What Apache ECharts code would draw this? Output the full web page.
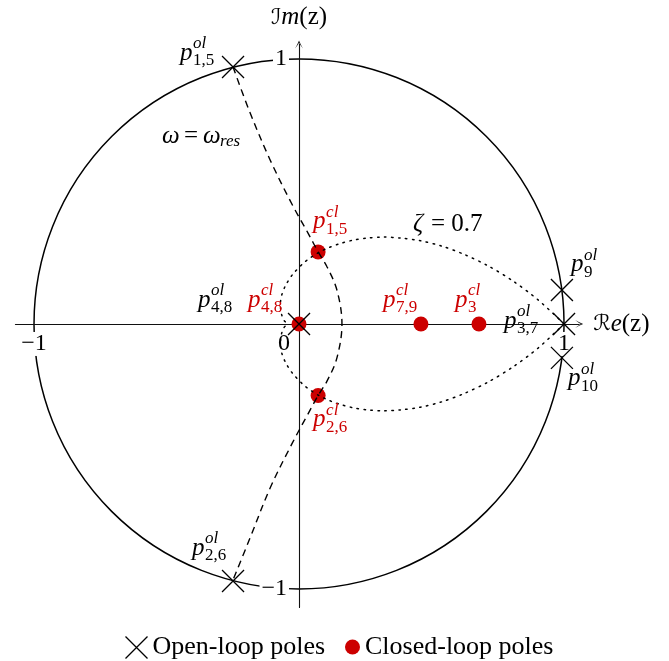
<!DOCTYPE html>
<html>
<head>
<meta charset="utf-8">
<script src="https://cdn.jsdelivr.net/npm/echarts@6/dist/echarts.min.js"></script>
<style>
  html, body { margin: 0; padding: 0; background: #fff; }
  #chart { width: 669px; height: 661px; }
</style>
</head>
<body>
<div id="chart"></div>
<script>
// Root locus of the loop in the z-plane.

// Open-loop poles (crosses) and their subscripts
const openPoles = [[-0.249, 0.970], [-0.249, -0.970], [0, 0], [1, 0], [0.992, 0.128], [0.992, -0.128]];
const openSubs = ['1,5', '2,6', '4,8', '3,7', '9', '10'];

// Closed-loop poles (red dots) and their subscripts
const closedPoles = [[0.072, 0.272], [0.072, -0.270], [0, 0], [0.46, 0], [0.679, 0]];
const closedSubs = ['1,5', '2,6', '4,8', '7,9', '3'];

// Locus branch from p1,5 down through the real axis to p2,6
const locusUpper = [[-0.249, 0.970], [-0.189, 0.808], [-0.109, 0.619], [-0.025, 0.449], [0.034, 0.343],
  [0.072, 0.272], [0.106, 0.215], [0.143, 0.128], [0.162, 0]];
const locusLower = [[0.162, 0], [0.143, -0.128], [0.106, -0.215], [0.072, -0.270], [0.032, -0.343],
  [-0.025, -0.449], [-0.109, -0.619], [-0.185, -0.808], [-0.249, -0.966]];

// Constant damping contour, zeta = 0.7
const dampingCurve = [[1, 0], [0.902, 0.091], [0.806, 0.163], [0.712, 0.220], [0.622, 0.263], [0.538, 0.294],
  [0.458, 0.314], [0.385, 0.324], [0.318, 0.328], [0.257, 0.324], [0.203, 0.316], [0.154, 0.303],
  [0.112, 0.288], [0.075, 0.270], [0.043, 0.250], [0.016, 0.229], [-0.024, 0.187], [-0.050, 0.147],
  [-0.065, 0.110], [-0.070, 0.078], [-0.069, 0.052], [-0.064, 0.030], [-0.057, 0.014], [-0.046, 0],
  [-0.057, -0.014], [-0.064, -0.030], [-0.069, -0.052], [-0.070, -0.078], [-0.065, -0.110],
  [-0.050, -0.147], [-0.024, -0.187], [0.016, -0.229], [0.043, -0.250], [0.075, -0.270], [0.112, -0.288],
  [0.154, -0.303], [0.203, -0.316], [0.257, -0.324], [0.318, -0.328], [0.385, -0.324], [0.458, -0.314],
  [0.538, -0.294], [0.622, -0.263], [0.712, -0.220], [0.806, -0.163], [0.902, -0.091], [1, 0]];

// Unit circle: center x, center y, radius
const unitCircle = [[0, 0, 1]];

// Tick labels
const xTicks = [-1, 0, 1];
const yTicks = [-1, 1];

// Free annotations anchored in data coordinates
const notes = [[-0.517, 0.709], [0.430, 0.374]];

// ---- styling ----
const SERIF = "'Liberation Serif', 'DejaVu Serif', serif";
const SCRIPT = "'DejaVu Serif', 'DejaVu Sans', serif";
const RED = '#cc0000';
const CROSS = 'path://M0,0L1,1M1,0L0,1';
const ARROW = 'path://M0,10Q3,5 5,0Q7,5 10,10Q6,5.2 5,2.8Q4,5.2 0,10Z';
const MAIN = 25, SMALL = 17, LEGEND = 26, TICK = 24;

// axis ranges and plot rectangle (equal scale on both axes)
const X_MIN = -1.07, X_MAX = 1.057, Y_MIN = -1.07, Y_MAX = 1.055;
const GRID = { left: 15.45, top: 44.4, width: 563.7, height: 563.1 };
// shift each axis from the plot edge onto the other axis' zero
const xAxisShift = -(GRID.height * (0 - Y_MIN) / (Y_MAX - Y_MIN));
const yAxisShift = -(GRID.width * (0 - X_MIN) / (X_MAX - X_MIN));

// pixel offsets of each label ("p" left edge, middle) from its pole
const openLabelOffsets = [[-53, -14], [-41, -33], [-101, -24], [-60, -3], [9, -26], [6, 21]];
const closedLabelOffsets = [[-5, -30], [-5, 24], [-51, -24], [-38, -24], [-24, -24]];

function txt(x, y, text, size, italic, color, family) {
  return {
    type: 'text', x: x, y: y, silent: true,
    style: {
      text: text, fontSize: size, fontFamily: family || SERIF,
      fontStyle: italic ? 'italic' : 'normal', fill: color,
      align: 'left', verticalAlign: 'middle'
    }
  };
}

function poleLabels(subs, sup, color, offsets) {
  return function (params, api) {
    const i = params.dataIndex;
    const pt = api.coord([api.value(0), api.value(1)]);
    const x = pt[0] + offsets[i][0];
    const y = pt[1] + offsets[i][1];
    return {
      type: 'group',
      children: [
        txt(x, y, 'p', MAIN, true, color),
        txt(x + 13, y - 9, sup, SMALL, true, color),
        txt(x + 13, y + 8, subs[i], SMALL, false, color)
      ]
    };
  };
}

function renderNotes(params, api) {
  const pt = api.coord([api.value(0), api.value(1)]);
  const x = pt[0], y = pt[1];
  if (params.dataIndex === 0) {
    return {
      type: 'group',
      children: [
        txt(x, y, 'ω', MAIN, true, '#000'),
        txt(x + 22, y, '=', MAIN, false, '#000'),
        txt(x + 41, y, 'ω', MAIN, true, '#000'),
        txt(x + 58, y + 5, 'res', SMALL, true, '#000')
      ]
    };
  }
  return {
    type: 'group',
    children: [
      txt(x, y, 'ζ', MAIN, true, '#000'),
      txt(x + 18, y, '= 0.7', MAIN, false, '#000')
    ]
  };
}

function renderCircle(params, api) {
  const c = api.coord([api.value(0), api.value(1)]);
  const r = api.size([api.value(2), 0])[0];
  return {
    type: 'circle', silent: true,
    shape: { cx: c[0], cy: c[1], r: r },
    style: { fill: 'none', stroke: '#000', lineWidth: 1.5 }
  };
}

function tickText(v) {
  return v < 0 ? '\u2212' + Math.abs(v) : String(v);
}

// tick labels sit on a small white patch, so the circle is broken around them
const tickRich = {
  b: { fontSize: TICK, fontFamily: SERIF, color: '#000', backgroundColor: '#fff', padding: [0, 2, 0, 2] },
  gap: { width: 30, fontSize: TICK }
};

const axisNameRich = {
  s: { fontSize: 22, fontFamily: SCRIPT, fontStyle: 'italic', color: '#000' },
  i: { fontSize: MAIN, fontFamily: SERIF, fontStyle: 'italic', color: '#000' },
  r: { fontSize: MAIN, fontFamily: SERIF, color: '#000' }
};

const chart = echarts.init(document.getElementById('chart'), null, { renderer: 'canvas' });

chart.setOption({
  animation: false,
  backgroundColor: '#fff',
  grid: Object.assign({ outerBoundsMode: 'none', containLabel: false }, GRID),
  xAxis: {
    type: 'value', min: X_MIN, max: X_MAX, position: 'bottom', offset: xAxisShift, z: 1,
    axisLine: {
      onZero: false, symbol: ['none', ARROW], symbolSize: [9, 8],
      lineStyle: { color: '#111', width: 1.1 }
    },
    axisTick: { show: false },
    splitLine: { show: false },
    axisLabel: {
      customValues: xTicks, margin: 8, color: '#000', fontSize: TICK, fontFamily: SERIF,
      formatter: function (v) {
        // the origin label is pushed to the left of the vertical axis
        return v === 0 ? '{b|0}{gap|}' : '{b|' + tickText(v) + '}';
      },
      rich: tickRich
    },
    name: '{s|\u211B}{i|e}{r|(z)}',
    nameLocation: 'end', nameGap: 14,
    nameTextStyle: { rich: axisNameRich }
  },
  yAxis: {
    type: 'value', min: Y_MIN, max: Y_MAX, position: 'left', offset: yAxisShift, z: 1,
    axisLine: {
      onZero: false, symbol: ['none', ARROW], symbolSize: [9, 8],
      lineStyle: { color: '#111', width: 1.1 }
    },
    axisTick: { show: false },
    splitLine: { show: false },
    axisLabel: {
      customValues: yTicks, margin: 10, color: '#000', fontSize: TICK, fontFamily: SERIF,
      formatter: function (v) { return '{b|' + tickText(v) + '}'; },
      rich: tickRich
    },
    name: '{s|\u2110}{i|m}{r|(z)}',
    nameLocation: 'end', nameGap: 14,
    nameTextStyle: { rich: axisNameRich }
  },
  legend: [
    {
      data: [{ name: 'Open-loop poles', icon: CROSS }],
      left: 123, top: 634, padding: 0, itemWidth: 22, itemHeight: 22,
      itemStyle: { color: 'none', borderColor: '#000', borderWidth: 1.3, opacity: 1 },
      textStyle: { fontSize: LEGEND, fontFamily: SERIF, color: '#000' },
      selectedMode: false
    },
    {
      data: [{ name: 'Closed-loop poles', icon: 'circle' }],
      left: 345, top: 634, padding: 0, itemWidth: 15, itemHeight: 15,
      itemStyle: { color: RED, opacity: 1 },
      textStyle: { fontSize: LEGEND, fontFamily: SERIF, color: '#000' },
      selectedMode: false
    }
  ],
  series: [
    {
      type: 'custom', name: 'unit circle', coordinateSystem: 'cartesian2d',
      renderItem: renderCircle, data: unitCircle, clip: false, z: 0, silent: true
    },
    {
      type: 'scatter', name: 'Closed-loop poles', data: closedPoles,
      symbol: 'circle', symbolSize: 15, itemStyle: { color: RED, opacity: 1 }, z: 2, silent: true
    },
    {
      type: 'line', name: 'root locus', data: locusUpper.concat(locusLower.slice(1)),
      symbol: 'none', smooth: 0.35, clip: false, z: 3, silent: true,
      lineStyle: { color: '#000', width: 1.4, type: [7, 5] }
    },
    {
      type: 'line', name: 'damping', data: dampingCurve,
      symbol: 'none', smooth: 0.3, clip: false, z: 3, silent: true,
      lineStyle: { color: '#000', width: 1.5, type: [1.5, 5.5], cap: 'round' }
    },
    {
      type: 'scatter', name: 'Open-loop poles', data: openPoles,
      symbol: CROSS, symbolSize: 22, z: 4, silent: true,
      itemStyle: { color: 'none', borderColor: '#000', borderWidth: 1.3, opacity: 1 }
    },
    {
      type: 'custom', name: 'open labels', coordinateSystem: 'cartesian2d',
      renderItem: poleLabels(openSubs, 'ol', '#000', openLabelOffsets),
      data: openPoles, clip: false, z: 5, silent: true
    },
    {
      type: 'custom', name: 'closed labels', coordinateSystem: 'cartesian2d',
      renderItem: poleLabels(closedSubs, 'cl', RED, closedLabelOffsets),
      data: closedPoles, clip: false, z: 5, silent: true
    },
    {
      type: 'custom', name: 'notes', coordinateSystem: 'cartesian2d',
      renderItem: renderNotes, data: notes, clip: false, z: 5, silent: true
    }
  ]
});
</script>
</body>
</html>
